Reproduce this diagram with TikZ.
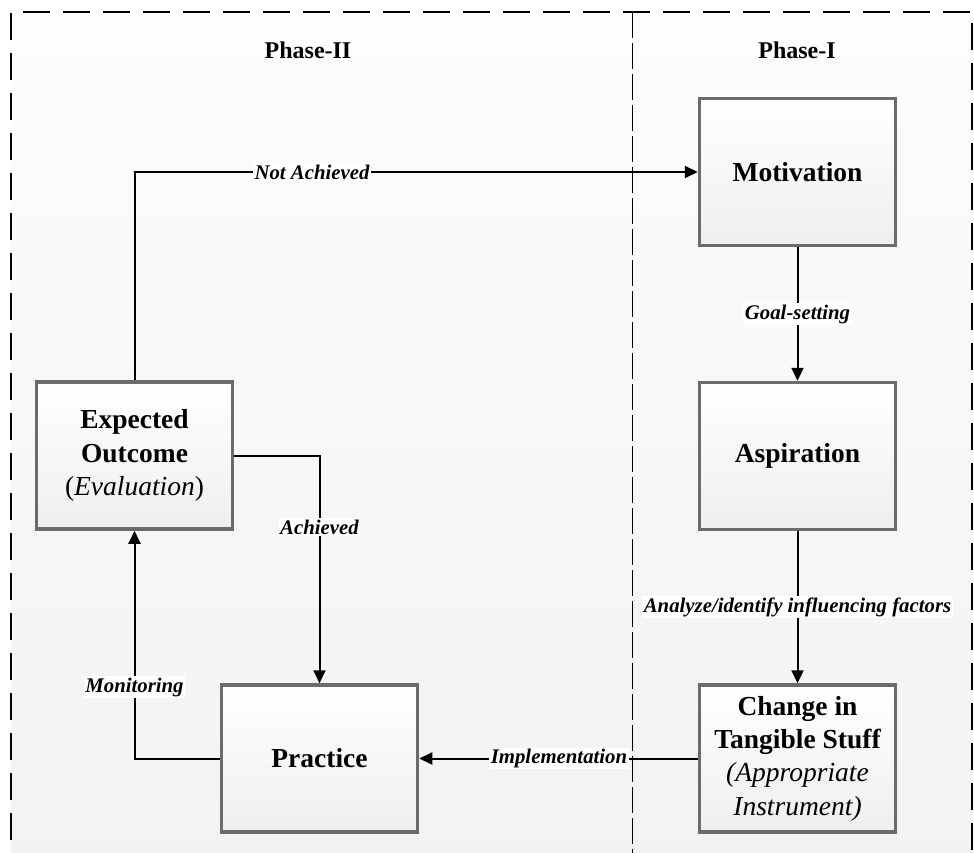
\documentclass[tikz,border=0pt]{standalone}
\usepackage{fontspec}
\setmainfont{Liberation Serif}
\usetikzlibrary{arrows.meta}
\definecolor{boxedge}{HTML}{6B6B6B}
\definecolor{boxbottom}{HTML}{EEEFEF}
\definecolor{paneltop}{HTML}{FDFDFD}
\definecolor{panelbottom}{HTML}{F1F2F2}
\newcommand\bxfont{\fontsize{27.5}{33.4}\selectfont\bfseries}
\newcommand\lbfont{\fontsize{20.8}{24}\selectfont\bfseries\itshape}
\newcommand\phfont{\fontsize{24}{28}\selectfont\bfseries}
\tikzset{
  stagebox/.style={draw=boxedge, line width=3.5pt, top color=white, bottom color=boxbottom,
    minimum width=196pt, minimum height=147pt, align=center, font=\bxfont, inner sep=0pt},
  flow/.style={line width=2pt, -{Triangle[length=13pt,width=12pt]}},
  flowlabel/.style={fill=white, inner sep=1.5pt, font=\lbfont},
  phaselabel/.style={font=\phfont},
  frame/.style={line width=1.6pt, dash pattern=on 27pt off 13pt},
  divider/.style={line width=1pt, dash pattern=on 26pt off 5pt}
}
\begin{document}
\begin{tikzpicture}[x=1pt,y=-1pt]
\clip (0,0) rectangle (974,852);
\fill[white] (0,0) rectangle (974,852);
% panels
\shade[top color=paneltop, bottom color=panelbottom] (11,12) rectangle (972,880);
\draw[divider] (632,12) -- (632,880);
\draw[frame] (11,880) -- (11,12) -- (972,12) -- (972,880);

\node[phaselabel] (ph2) at (308,50) {Phase-II};
\node[phaselabel] (ph1) at (797,50) {Phase-I};

% stages
\node[stagebox] (mot)  at (797.5,172) {Motivation};
\node[stagebox] (asp)  at (797.5,456) {Aspiration};
\node[stagebox] (chg)  at (797.5,758.5) {Change in\\Tangible Stuff\\{\mdseries\itshape (Appropriate}\\{\mdseries\itshape Instrument)}};
\node[stagebox] (exp)  at (134.5,455.5) {Expected\\Outcome\\{\mdseries(\textit{Evaluation})}};
\node[stagebox] (prac) at (319.5,758.5) {Practice};

% connectors
\draw[flow] (exp.north) |- (mot.west);
\draw[flow] (mot.south) -- (asp.north);
\draw[flow] (asp.south) -- (chg.north);
\draw[flow] (chg.west) -- (prac.east);
\draw[flow] (prac.west) -| (exp.south);
\draw[flow] (exp.east) -| (prac.north);

% connector labels
\node[flowlabel] (lna) at (312,172) {Not Achieved};
\node[flowlabel] (lgs) at (797.5,314) {Goal-setting};
\node[flowlabel] (lan) at (797.5,607) {Analyze/identify influencing factors};
\node[flowlabel] (lim) at (559,758.5) {Implementation};
\node[flowlabel] (lmo) at (134.5,687) {Monitoring};
\node[flowlabel] (lac) at (319.5,527) {Achieved};
\end{tikzpicture}
\end{document}
